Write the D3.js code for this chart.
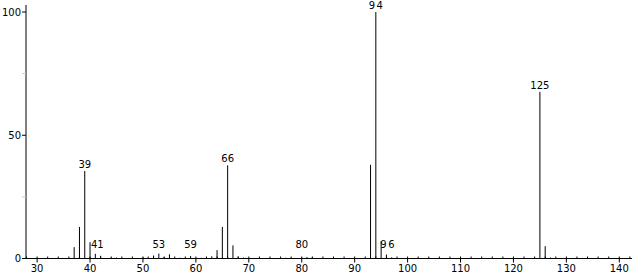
<!DOCTYPE html>
<html>
<head>
<meta charset="utf-8">
<script src="https://cdn.jsdelivr.net/npm/d3@7"></script>
<style>
  body { margin: 0; background: #fff; }
  svg text { font-family: "DejaVu Sans", sans-serif; font-size: 10px; fill: #000; }
</style>
</head>
<body>
<div class="chart"></div>
<script>
// m/z and relative intensity
var mz        = [37, 38, 39, 40, 41, 42, 44, 45, 50, 51, 52, 53, 54, 55, 57, 59, 61, 62, 63, 64, 65, 66, 67, 68, 69, 77, 78, 80, 81, 82, 93, 94, 95, 96, 97, 125, 126, 127]
var intensity = [4.6, 12.8, 35.5, 6.6, 1.9, 1.1, 0.3, 0.4, 0.5, 0.8, 1.2, 2.0, 0.6, 1.7, 0.3, 1.0, 0.3, 0.4, 0.9, 3.4, 12.8, 37.8, 5.3, 0.8, 0.4, 0.3, 0.3, 0.4, 0.6, 0.5, 38.0, 100, 7.0, 1.6, 0.5, 67.6, 5.0, 0.4]
var labeled   = [39, 41, 53, 59, 66, 80, 94, 96, 125]
var xTicks    = [30, 40, 50, 60, 70, 80, 90, 100, 110, 120, 130, 140]
var yTicks    = [0, 50, 100]

var width = 634, height = 275

var svg = d3.select('.chart').append('svg')
  .attr('width', width)
  .attr('height', height)

var x = d3.scaleLinear().domain([27.9, 142.4]).range([26, 632])
var y = d3.scaleLinear().domain([0, 100]).range([258.5, 12])

var peaks = mz.map((m, i) => ({m, v: intensity[i]}))

// sticks
svg.append('g').selectAll('line')
  .data(peaks)
  .join('line')
  .attr('x1', d => x(d.m))
  .attr('x2', d => x(d.m))
  .attr('y1', y(0))
  .attr('y2', d => y(d.v))
  .attr('stroke', '#000')
  .attr('stroke-width', 1)

// peak labels; the spaced ones get their trailing gap compensated
var spaced = {94: 1.5, 96: 1.5}
var nudge = {41: 2, 96: 1}
svg.append('g').selectAll('text')
  .data(peaks.filter(d => labeled.includes(d.m)))
  .join('text')
  .attr('x', d => x(d.m) + (spaced[d.m] || 0) / 2 + (nudge[d.m] || 0))
  .attr('y', d => Math.min(y(d.v), y(0) - 8) - 3)
  .attr('text-anchor', 'middle')
  .attr('letter-spacing', d => spaced[d.m] || 0)
  .text(d => d.m)

// x axis
var xAxis = svg.append('g').attr('transform', `translate(0,${y(0)})`)
xAxis.append('line')
  .attr('x1', x.range()[0]).attr('x2', x.range()[1])
  .attr('stroke', '#000')
xAxis.selectAll('.minor')
  .data(d3.range(28, 143, 2).filter(d => d % 10))
  .join('line')
  .attr('class', 'minor')
  .attr('x1', d => x(d)).attr('x2', d => x(d))
  .attr('y1', 0).attr('y2', -2)
  .attr('stroke', '#000')
xAxis.selectAll('.major')
  .data(xTicks)
  .join('line')
  .attr('class', 'major')
  .attr('x1', d => x(d)).attr('x2', d => x(d))
  .attr('y1', -2).attr('y2', 4)
  .attr('stroke', '#000')
xAxis.selectAll('text')
  .data(xTicks)
  .join('text')
  .attr('x', d => x(d))
  .attr('y', 13)
  .attr('text-anchor', 'middle')
  .text(d => d)

// y axis
var yAxis = svg.append('g').attr('transform', `translate(${x.range()[0]},0)`)
yAxis.append('line')
  .attr('y1', y(0)).attr('y2', 5)
  .attr('stroke', '#000')
yAxis.selectAll('.tick')
  .data([0, 25, 50, 75, 100])
  .join('line')
  .attr('class', 'tick')
  .attr('x1', -4).attr('x2', 0)
  .attr('y1', d => y(d)).attr('y2', d => y(d))
  .attr('stroke', d => d % 50 ? '#ccc' : '#000')
yAxis.selectAll('text')
  .data(yTicks)
  .join('text')
  .attr('x', -5)
  .attr('y', d => y(d) + 3.5)
  .attr('text-anchor', 'end')
  .text(d => d)
</script>
</body>
</html>
